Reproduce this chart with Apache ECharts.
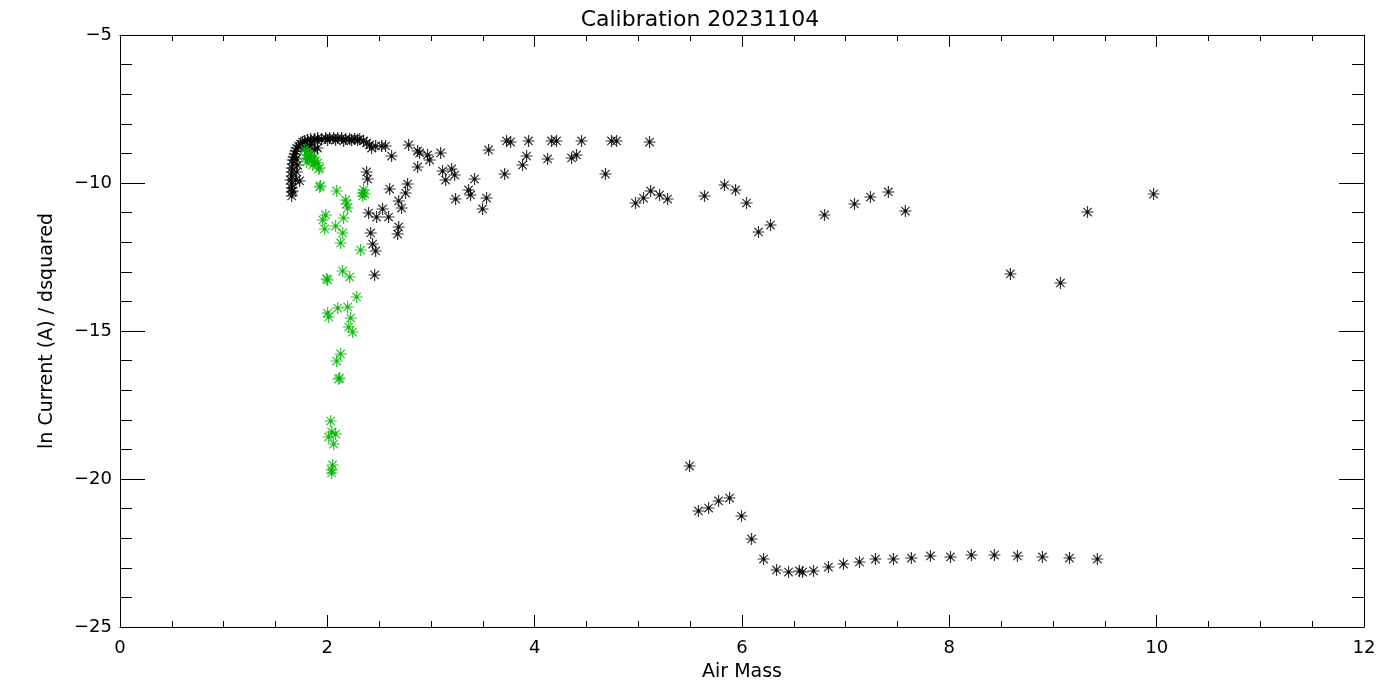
<!DOCTYPE html>
<html>
<head>
<meta charset="utf-8">
<script src="https://cdn.jsdelivr.net/npm/echarts@6/dist/echarts.min.js"></script>
<style>html,body{margin:0;padding:0;background:#fff;}#c{width:1400px;height:700px;}</style>
</head>
<body>
<div id="c"></div>
<script>
const titleText = 'Calibration 20231104';
const xName = 'Air Mass';
const yName = 'ln Current (A) / dsquared';
const xTicks = [0, 2, 4, 6, 8, 10, 12];
const yTicks = [-25, -20, -15, -10, -5];

const blackX = [
  1.656,1.656,1.656,1.656,1.646,1.656,1.656,1.656,1.666,1.666,1.675,1.685,1.694,1.704,1.723,1.743,1.762,1.781,1.810,1.839,
  1.878,1.906,1.945,1.984,2.022,2.061,2.100,2.138,2.177,2.215,2.263,2.312,
  1.694,1.733,1.704,1.714,1.704,1.781,1.829,1.849,1.878,1.906,1.906,2.003,2.080,2.157,2.234,2.292,2.350,2.379,1.666,
  2.408,2.427,2.466,2.524,2.562,2.620,2.784,2.871,2.890,2.967,2.987,3.093,2.871,3.112,3.141,3.199,3.228,3.237,
  2.379,2.389,2.601,2.774,2.755,2.688,2.716,2.398,2.475,2.533,2.591,2.688,2.678,2.418,2.437,2.466,2.456,
  3.362,3.382,3.420,3.536,3.497,3.556,3.710,3.729,3.768,3.941,4.163,4.211,4.452,4.741,4.790,5.108,
  3.922,3.883,4.125,4.356,4.404,4.683,4.973,5.050,5.118,5.205,5.282,5.638,5.831,5.938,6.044,6.159,6.275,
  6.796,7.085,7.239,7.412,7.576,8.589,9.072,9.333,9.97,
  5.494,5.580,5.678,5.774,5.880,5.995,6.092,6.208,6.333,6.449,6.554,6.584,6.690,6.834,6.979,7.133,7.287,
  7.461,7.634,7.818,8.011,8.213,8.435,8.657,8.898,9.159,9.428
];
const blackY = [
  -10.439,-10.304,-10.169,-10.034,-9.899,-9.764,-9.628,-9.493,-9.358,-9.223,-9.122,-9.020,-8.919,-8.818,-8.750,-8.682,-8.615,-8.581,-8.547,-8.514,
  -8.514,-8.480,-8.514,-8.480,-8.480,-8.480,-8.480,-8.480,-8.514,-8.514,-8.514,-8.514,
  -9.899,-9.932,-9.628,-9.392,-9.189,-8.818,-8.750,-8.682,-8.885,-8.818,-8.581,-8.547,-8.547,-8.581,-8.547,-8.547,-8.581,-8.649,-10.270,
  -8.716,-8.818,-8.750,-8.750,-8.750,-9.088,-8.716,-8.919,-8.986,-9.054,-9.223,-8.986,-9.459,-9.595,-9.899,-9.527,-9.730,-10.541,
  -9.628,-9.865,-10.203,-10.034,-10.338,-10.608,-10.845,-11.014,-11.149,-10.878,-11.149,-11.486,-11.723,-11.689,-12.061,-12.297,-13.108,
  -10.236,-10.405,-9.865,-10.507,-10.878,-8.885,-9.696,-8.581,-8.615,-8.581,-8.581,-8.581,-8.581,-8.581,-8.581,-8.615,
  -9.088,-9.392,-9.189,-9.155,-9.054,-9.696,-10.676,-10.507,-10.270,-10.405,-10.541,-10.439,-10.068,-10.236,-10.676,-11.655,-11.419,
  -11.081,-10.709,-10.473,-10.304,-10.946,-13.074,-13.378,-10.980,-10.372,
  -19.561,-21.081,-20.980,-20.743,-20.642,-21.250,-22.027,-22.703,-23.074,-23.142,-23.108,-23.142,-23.108,-22.973,-22.872,-22.804,-22.703,
  -22.703,-22.669,-22.601,-22.635,-22.568,-22.568,-22.601,-22.635,-22.669,-22.703
];
const greenX = [
  1.781,1.810,1.829,1.849,1.878,1.906,1.800,1.858,1.926,1.791,1.810,1.916,1.839,1.878,
  1.926,1.935,2.090,2.341,2.360,2.341,2.350,2.177,2.186,2.196,1.984,1.955,1.974,2.157,2.080,2.148,2.128,2.321,
  2.148,2.215,1.993,2.003,2.283,2.100,2.196,2.003,2.013,2.225,2.206,2.244,2.128,2.090,2.119,2.109,
  2.032,2.042,2.080,2.013,2.061,2.051,2.042,2.042
];
const greenY = [
  -8.885,-9.054,-9.155,-9.223,-9.291,-9.324,-9.291,-9.392,-9.493,-9.155,-8.919,-9.527,-9.088,-9.122,
  -10.135,-10.101,-10.270,-10.338,-10.372,-10.439,-10.236,-10.574,-10.709,-10.845,-11.081,-11.250,-11.554,-11.182,-11.453,-11.689,-12.027,-12.264,
  -12.973,-13.176,-13.243,-13.277,-13.851,-14.223,-14.189,-14.392,-14.527,-14.561,-14.865,-15.034,-15.777,-16.014,-16.588,-16.622,
  -18.041,-18.412,-18.480,-18.581,-18.818,-19.527,-19.696,-19.797
];

const star = 'path://M6,0 L6,12 M0,6 L12,6 M1.8,1.8 L10.2,10.2 M10.2,1.8 L1.8,10.2 M4.8,4.8 L7.2,4.8 L7.2,7.2 L4.8,7.2 Z';
const font = 'DejaVu Sans';
const fmt = v => String(v).replace('-', '\u2212');

function pairs(xs, ys) { return xs.map((x, i) => [x, ys[i]]); }

const chart = echarts.init(document.getElementById('c'));
const xBase = {
  type: 'value', min: xTicks[0], max: xTicks[xTicks.length - 1], interval: xTicks[1] - xTicks[0],
  axisLine: { show: true, onZero: false, lineStyle: { color: '#000', width: 1 } },
  axisTick: { show: true, inside: true, length: 12, lineStyle: { color: '#000' } },
  minorTick: { show: true, splitNumber: 4, length: 6, lineStyle: { color: '#000' } },
  splitLine: { show: false }, minorSplitLine: { show: false }
};
const yBase = {
  type: 'value', min: yTicks[0], max: yTicks[yTicks.length - 1], interval: yTicks[1] - yTicks[0],
  axisLine: { show: true, onZero: false, lineStyle: { color: '#000', width: 1 } },
  axisTick: { show: true, inside: true, length: 25, lineStyle: { color: '#000' } },
  minorTick: { show: true, splitNumber: 5, length: 12, lineStyle: { color: '#000' } },
  splitLine: { show: false }, minorSplitLine: { show: false }
};
chart.setOption({
  animation: false,
  backgroundColor: '#fff',
  title: { text: titleText, left: 'center', top: 4, textStyle: { fontFamily: font, fontSize: 22, fontWeight: 'normal', color: '#000' } },
  grid: { left: 120, right: 36, top: 35, bottom: 73 },
  xAxis: [
    Object.assign({}, xBase, {
      position: 'bottom', name: xName, nameLocation: 'middle', nameGap: 36,
      nameTextStyle: { fontFamily: font, fontSize: 19, color: '#000' },
      axisLabel: { show: true, margin: 12, formatter: fmt, fontFamily: font, fontSize: 18, color: '#000' }
    }),
    Object.assign({}, xBase, { position: 'top', axisLabel: { show: false } })
  ],
  yAxis: [
    Object.assign({}, yBase, {
      position: 'left', name: yName, nameLocation: 'middle', nameGap: 63,
      nameTextStyle: { fontFamily: font, fontSize: 19, color: '#000' },
      axisLabel: { show: true, margin: 8, formatter: fmt, fontFamily: font, fontSize: 18, color: '#000' }
    }),
    Object.assign({}, yBase, { position: 'right', axisLabel: { show: false } })
  ],
  series: [
    { type: 'scatter', xAxisIndex: 0, yAxisIndex: 0, data: pairs(blackX, blackY), symbol: star, symbolSize: 12,
      itemStyle: { color: '#000', borderColor: '#000', borderWidth: 1.2 }, emphasis: { disabled: true } },
    { type: 'scatter', xAxisIndex: 0, yAxisIndex: 0, data: pairs(greenX, greenY), symbol: star, symbolSize: 12,
      itemStyle: { color: '#00b400', borderColor: '#00b400', borderWidth: 1.2 }, emphasis: { disabled: true } }
  ]
});
</script>
</body>
</html>
